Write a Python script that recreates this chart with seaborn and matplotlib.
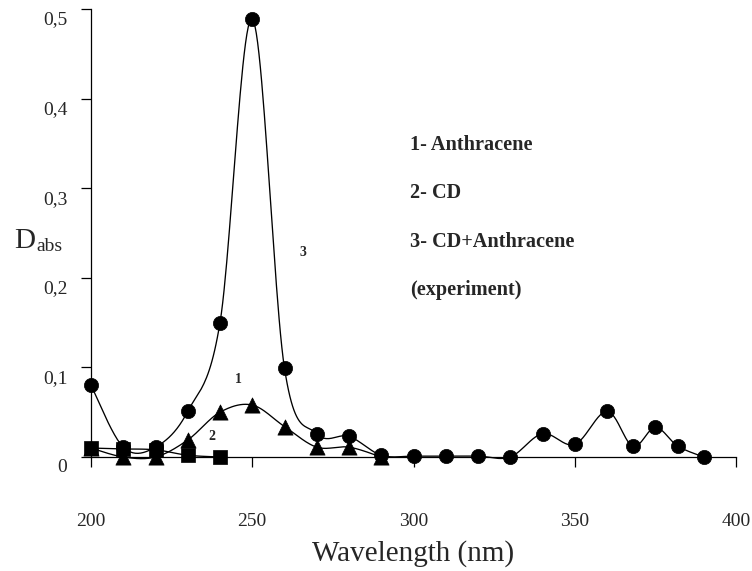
import numpy as np
import matplotlib
matplotlib.use("Agg")
import matplotlib.pyplot as plt
import matplotlib.transforms as mtransforms
import seaborn as sns
import pandas as pd

# Absorption spectra, wavelength in nm
wl_anthracene = [200, 210, 220, 230, 240, 250, 260, 270, 280, 290]
d_anthracene = [0.010, 0.000, 0.000, 0.019, 0.050, 0.058, 0.034, 0.011, 0.011, 0.000]

wl_cd = [200, 210, 220, 230, 240]
d_cd = [0.010, 0.009, 0.008, 0.002, 0.000]

wl_mix = [200, 210, 220, 230, 240, 250, 260, 270, 280, 290, 300, 310, 320, 330,
          340, 350, 360, 368, 375, 382, 390]
d_mix = [0.080, 0.011, 0.011, 0.051, 0.150, 0.489, 0.099, 0.026, 0.023, 0.002,
         0.001, 0.001, 0.001, 0.000, 0.026, 0.014, 0.051, 0.012, 0.033, 0.012, 0.000]

x_ticks = [200, 250, 300, 350, 400]
y_ticks = [0, 0.1, 0.2, 0.3, 0.4, 0.5]
y_tick_labels = ["0", "0,1", "0,2", "0,3", "0,4", "0,5"]
legend_lines = ["1- Anthracene", "2- CD", "3- CD+Anthracene", "(experiment)"]

sns.set_theme(style="white")
plt.rcParams["font.family"] = ["Liberation Serif", "DejaVu Serif"]


def smooth(x, y, n=24):
    """Catmull-Rom curve through the points (spreadsheet-style smoothed line)."""
    p = np.column_stack([x, y]).astype(float)
    p = np.vstack([p[0], p, p[-1]])
    out = []
    t = np.linspace(0, 1, n, endpoint=False)[:, None]
    for i in range(1, len(p) - 2):
        p0, p1, p2, p3 = p[i - 1], p[i], p[i + 1], p[i + 2]
        seg = 0.5 * ((2 * p1) + (-p0 + p2) * t + (2 * p0 - 5 * p1 + 4 * p2 - p3) * t ** 2
                     + (-p0 + 3 * p1 - 3 * p2 + p3) * t ** 3)
        out.append(seg)
    out.append(p[-2][None, :])
    c = np.vstack(out)
    return c[:, 0], c[:, 1]


fig = plt.figure(figsize=(7.52, 5.71), dpi=100)
ax = fig.add_axes([91 / 752, 114 / 571, (736 - 91) / 752, (457 - 9) / 571])

series = [
    (wl_anthracene, d_anthracene, "^", 120),
    (wl_cd, d_cd, "s", 95),
    (wl_mix, d_mix, "o", 105),
]
for xs, ys, mk, size in series:
    cx, cy = smooth(xs, ys)
    ax.plot(cx, cy, color="black", lw=0.95, clip_on=False, zorder=2)
for xs, ys, mk, size in series:
    df = pd.DataFrame({"wl": xs, "d": ys})
    sns.scatterplot(data=df, x="wl", y="d", marker=mk, s=size, color="black",
                    edgecolor="black", linewidth=0.5, ax=ax, clip_on=False, zorder=3)

ax.set_xlim(200, 400)
ax.set_ylim(0, 0.5)
ax.set_xticks(x_ticks)
ax.set_xticklabels([str(v) for v in x_ticks])
ax.set_yticks(y_ticks)
ax.set_yticklabels(y_tick_labels)
ax.set_xlabel("")
ax.set_ylabel("")

for side in ("top", "right"):
    ax.spines[side].set_visible(False)
for side in ("left", "bottom"):
    ax.spines[side].set_color("black")
    ax.spines[side].set_linewidth(0.9)

ax.tick_params(axis="x", direction="out", length=7, width=0.9, color="black",
               pad=33, labelsize=14, bottom=True)
ax.tick_params(axis="y", direction="out", length=7, width=0.9, color="black",
               pad=10, labelsize=14, left=True)
shift = mtransforms.ScaledTranslation(0, -0.09, fig.dpi_scale_trans)
for lab in ax.get_yticklabels():
    lab.set_transform(lab.get_transform() + shift)

ax.text(0.5, -0.215, "Wavelength (nm)", transform=ax.transAxes, ha="center",
        va="center", fontsize=21)

# Axis title D with subscript
fig.text(14 / 752, 1 - 248 / 571, "D", fontsize=21, ha="left", va="baseline")
fig.text(36 / 752, 1 - 251 / 571, "abs", fontsize=14, ha="left", va="baseline")

# Curve numbers
ax.text(245.6, 0.087, "1", fontsize=10, fontweight="bold", ha="center", va="center")
ax.text(237.5, 0.0234, "2", fontsize=10, fontweight="bold", ha="center", va="center")
ax.text(265.7, 0.2285, "3", fontsize=10, fontweight="bold", ha="center", va="center")

legend_y = [145, 193, 242, 290]
for txt, yp in zip(legend_lines, legend_y):
    fig.text(410 / 752, 1 - yp / 571, txt, fontsize=14.6, fontweight="bold",
             ha="left", va="center")

fig.savefig("out.png", dpi=100, facecolor="white")
